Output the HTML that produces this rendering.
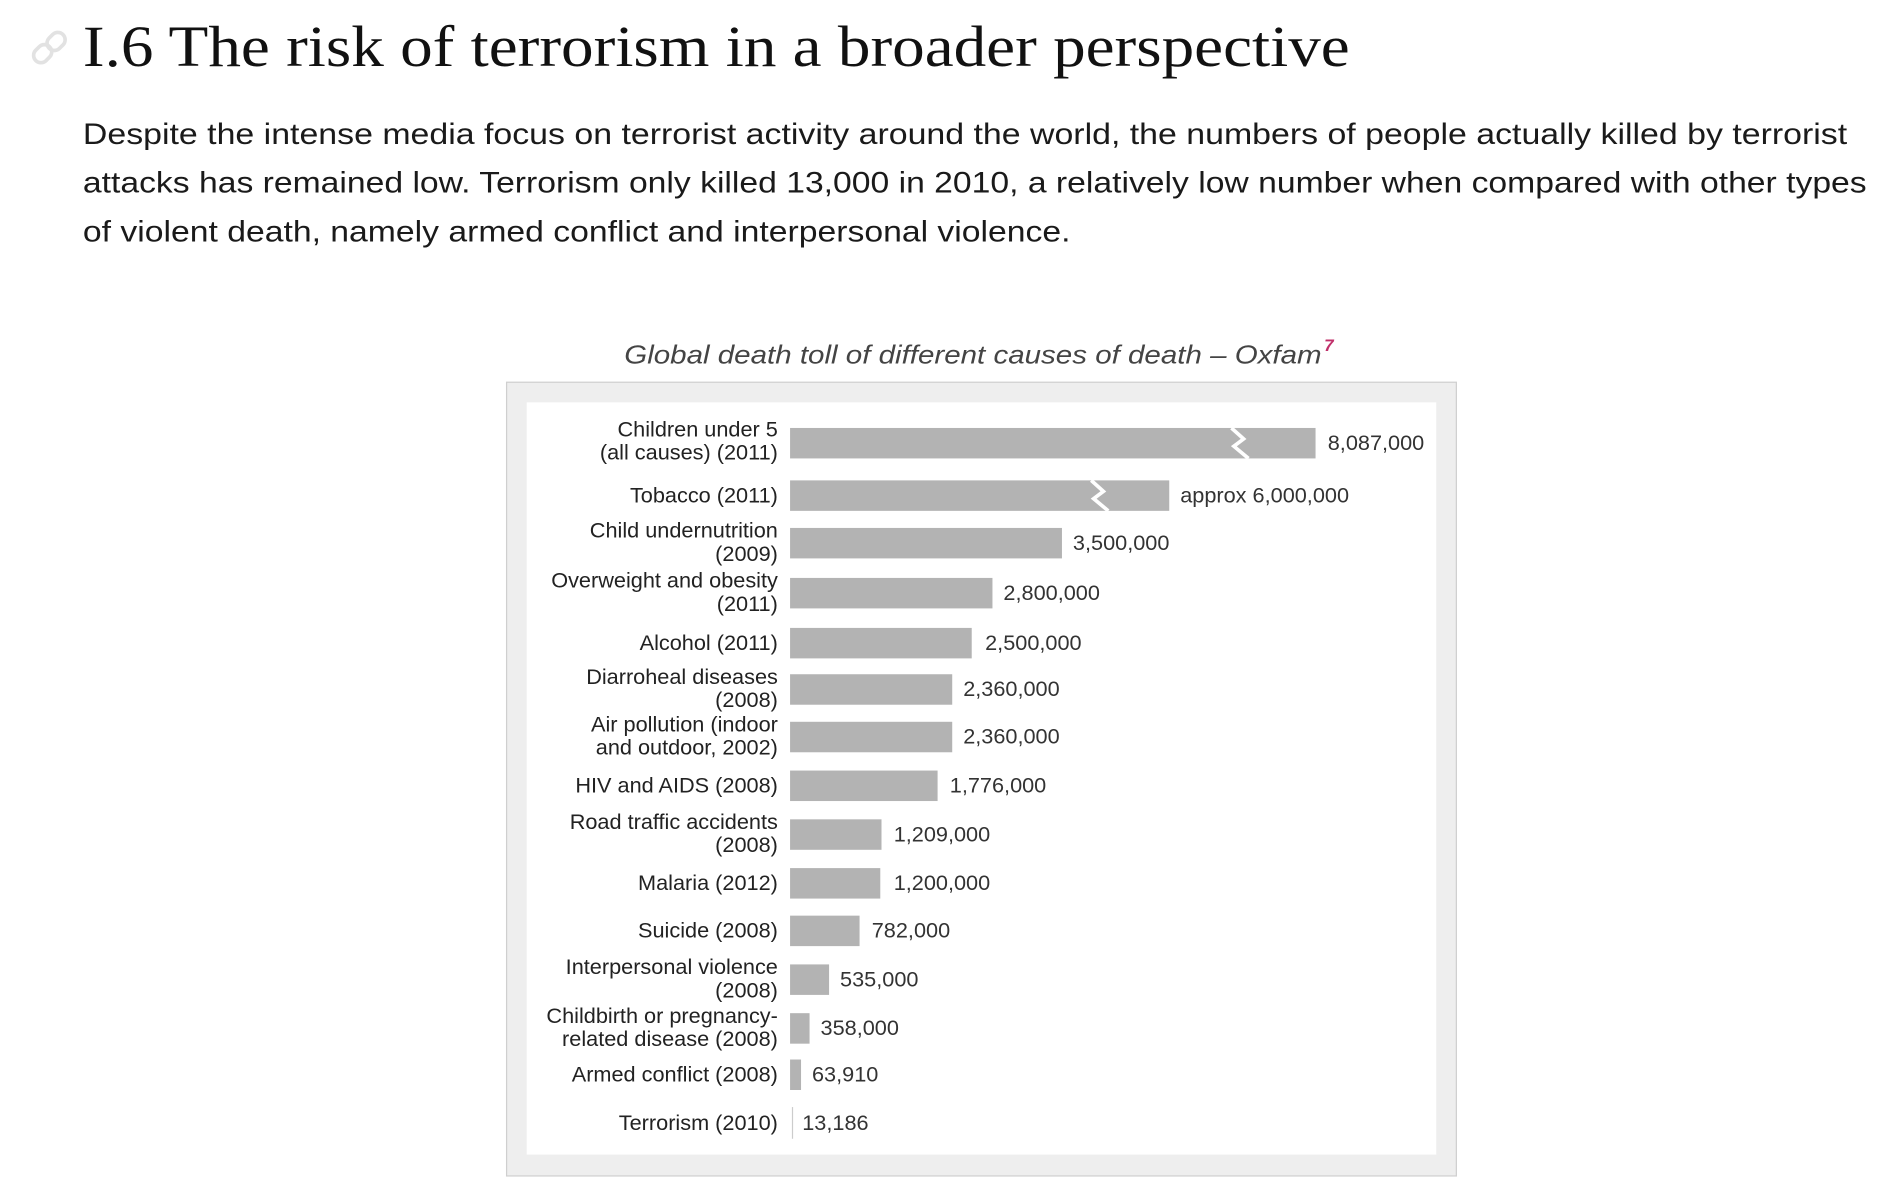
<!DOCTYPE html>
<html><head><meta charset="utf-8"><style>
html,body{margin:0;padding:0;background:#fff;}
svg{display:block;}
</style></head><body>
<svg width="1902" height="1194" viewBox="0 0 1560 979.3" xmlns="http://www.w3.org/2000/svg">
<rect width="1560" height="980" fill="#fff"/>
<g fill="none" stroke="#e2e2e2" stroke-width="3">
<rect x="29" y="36" width="12" height="16" rx="6" transform="rotate(45 35 44)"/>
<rect x="40" y="26" width="12" height="16" rx="6" transform="rotate(45 46 34)"/>
</g>
<text x="68" y="54" font-family="Liberation Serif, serif" font-size="48" fill="#111" textLength="1039" lengthAdjust="spacingAndGlyphs">I.6 The risk of terrorism in a broader perspective</text>
<g font-family="Liberation Sans, sans-serif" font-size="24.5" fill="#1a1a1a">
<text x="68" y="118" textLength="1447" lengthAdjust="spacingAndGlyphs">Despite the intense media focus on terrorist activity around the world, the numbers of people actually killed by terrorist</text>
<text x="68" y="158" textLength="1463" lengthAdjust="spacingAndGlyphs">attacks has remained low. Terrorism only killed 13,000 in 2010, a relatively low number when compared with other types</text>
<text x="68" y="198" textLength="810" lengthAdjust="spacingAndGlyphs">of violent death, namely armed conflict and interpersonal violence.</text>
</g>
<text x="512" y="298" font-family="Liberation Sans, sans-serif" font-style="italic" font-size="21" fill="#444" textLength="572" lengthAdjust="spacingAndGlyphs">Global death toll of different causes of death – Oxfam</text>
<text x="1086" y="288" font-family="Liberation Sans, sans-serif" font-style="italic" font-weight="bold" font-size="14" fill="#c0306a">7</text>
<rect x="415.5" y="313.5" width="779" height="651" fill="#eeeeee" stroke="#cfcfcf" stroke-width="1"/>
<rect x="432" y="330" width="746" height="617" fill="#fff"/>
<g fill="#b3b3b3">
<rect x="648" y="351" width="431" height="25"/>
<rect x="648" y="394" width="311" height="25"/>
<rect x="648" y="433" width="223" height="25"/>
<rect x="648" y="474" width="166" height="25"/>
<rect x="648" y="515" width="149" height="25"/>
<rect x="648" y="553" width="133" height="25"/>
<rect x="648" y="592" width="133" height="25"/>
<rect x="648" y="632" width="121" height="25"/>
<rect x="648" y="672" width="75" height="25"/>
<rect x="648" y="712" width="74" height="25"/>
<rect x="648" y="751" width="57" height="25"/>
<rect x="648" y="791" width="32" height="25"/>
<rect x="648" y="831" width="16" height="25"/>
<rect x="648" y="869" width="9" height="25"/>
</g>
<line x1="650" y1="908" x2="650" y2="934" stroke="#ccc" stroke-width="1"/>
<g stroke="#fff" stroke-width="3" fill="none">
<polyline points="1010,351 1020,360 1012,366 1024,376"/>
<polyline points="895,394 905,403 897,409 909,419"/>
</g>
<g font-family="Liberation Sans, sans-serif" font-size="17.8" fill="#222" text-anchor="end">
<text x="638" y="358">Children under 5</text><text x="638" y="377">(all causes) (2011)</text>
<text x="638" y="412">Tobacco (2011)</text>
<text x="638" y="441">Child undernutrition</text><text x="638" y="460">(2009)</text>
<text x="638" y="482">Overweight and obesity</text><text x="638" y="501">(2011)</text>
<text x="638" y="533">Alcohol (2011)</text>
<text x="638" y="561">Diarroheal diseases</text><text x="638" y="580">(2008)</text>
<text x="638" y="600">Air pollution (indoor</text><text x="638" y="619">and outdoor, 2002)</text>
<text x="638" y="650">HIV and AIDS (2008)</text>
<text x="638" y="680">Road traffic accidents</text><text x="638" y="699">(2008)</text>
<text x="638" y="730">Malaria (2012)</text>
<text x="638" y="769">Suicide (2008)</text>
<text x="638" y="799">Interpersonal violence</text><text x="638" y="818">(2008)</text>
<text x="638" y="839">Childbirth or pregnancy-</text><text x="638" y="858">related disease (2008)</text>
<text x="638" y="887">Armed conflict (2008)</text>
<text x="638" y="927">Terrorism (2010)</text>
</g>
<g font-family="Liberation Sans, sans-serif" font-size="17.8" fill="#333">
<text x="1089" y="369">8,087,000</text>
<text x="968" y="412">approx 6,000,000</text>
<text x="880" y="451">3,500,000</text>
<text x="823" y="492">2,800,000</text>
<text x="808" y="533">2,500,000</text>
<text x="790" y="571">2,360,000</text>
<text x="790" y="610">2,360,000</text>
<text x="779" y="650">1,776,000</text>
<text x="733" y="690">1,209,000</text>
<text x="733" y="730">1,200,000</text>
<text x="715" y="769">782,000</text>
<text x="689" y="809">535,000</text>
<text x="673" y="849">358,000</text>
<text x="666" y="887">63,910</text>
<text x="658" y="927">13,186</text>
</g>
</svg>
</body></html>
